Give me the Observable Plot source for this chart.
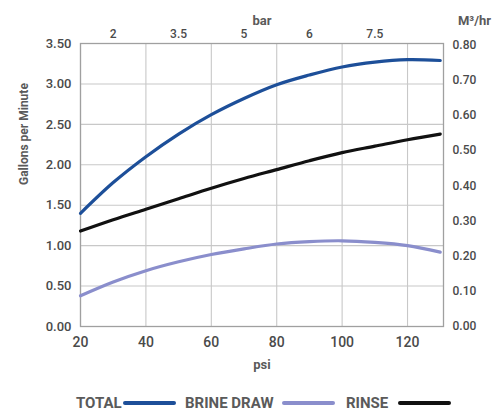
<!DOCTYPE html>
<html>
<head>
<meta charset="utf-8">
<script src="https://cdn.jsdelivr.net/npm/d3@7"></script>
<script src="https://cdn.jsdelivr.net/npm/@observablehq/plot@0.6"></script>
<style>
  html, body { margin: 0; padding: 0; background: #fff; }
  #chart { width: 499px; }
  .legend { position: relative; height: 24px; font-family: Roboto, "DejaVu Sans", sans-serif; font-weight: 700; font-size: 15px; color: #5a5a5a; margin-top: 8px; }
  .legend span { position: absolute; top: 0; line-height: 22px; white-space: nowrap; }
  .legend .sw { height: 4px; border-radius: 2px; top: 9px; }
</style>
</head>
<body>
<div id="chart"></div>
<script>
// Data
const psi   = [20, 30, 40, 50, 60, 70, 80, 90, 100, 110, 120, 130];
const total = [1.40, 1.78, 2.10, 2.38, 2.62, 2.82, 2.99, 3.11, 3.21, 3.27, 3.30, 3.29];
const brine = [0.38, 0.55, 0.69, 0.80, 0.89, 0.96, 1.02, 1.05, 1.06, 1.04, 1.00, 0.92];
const rinse = [1.18, 1.32, 1.45, 1.58, 1.71, 1.83, 1.94, 2.05, 2.15, 2.23, 2.31, 2.38];

const gpmTicks = [0, 0.5, 1, 1.5, 2, 2.5, 3, 3.5];
const psiTicks = [20, 40, 60, 80, 100, 120];
const barTickPsi = [30, 50, 70, 90, 110];
const barLabels = ["2", "3.5", "5", "6", "7.5"];
const m3Ticks = [0, 0.1, 0.2, 0.3, 0.4, 0.5, 0.6, 0.7, 0.8];
const gpmPerM3 = 4.35;

const seriesNames = ["TOTAL", "BRINE DRAW", "RINSE"];
const seriesColors = ["#1d4f99", "#8a8ecc", "#111111"];
const seriesValues = [total, brine, rinse];

const rows = [];
seriesNames.forEach((s, k) => psi.forEach((p, i) => rows.push({series: s, psi: p, gpm: seriesValues[k][i]})));

const font = "Roboto, 'DejaVu Sans', sans-serif";
const tickColor = "#4a4a4a";

const chart = Plot.plot({
  width: 499,
  height: 384,
  marginLeft: 80,
  marginRight: 56,
  marginTop: 43,
  marginBottom: 58,
  style: {fontFamily: font, fontSize: "13px", color: tickColor, background: "#fff"},
  x: {domain: [20, 131]},
  y: {domain: [0, 3.5]},
  color: {domain: seriesNames, range: seriesColors},
  marks: [
    Plot.gridY(gpmTicks, {stroke: "#c8c8c8", strokeOpacity: 1, strokeWidth: 1.1}),
    Plot.gridX(psiTicks, {stroke: "#c8c8c8", strokeOpacity: 1, strokeWidth: 1.1}),
    Plot.frame({stroke: "#a0a0a0", strokeWidth: 1.3}),
    Plot.axisY(gpmTicks, {anchor: "left", tickSize: 0, tickPadding: 9, tickFormat: d => d.toFixed(2), label: null, fontWeight: 500, fill: tickColor, fontSize: 13}),
    Plot.axisY(m3Ticks.map(v => v * gpmPerM3), {anchor: "right", tickSize: 0, tickPadding: 9, tickFormat: d => (d / gpmPerM3).toFixed(2), label: null, fontWeight: 500, fill: tickColor, fontSize: 12}),
    Plot.axisX(psiTicks, {anchor: "bottom", tickSize: 0, tickPadding: 11, label: null, fontWeight: 500, fill: tickColor, fontSize: 14}),
    Plot.axisX(barTickPsi, {anchor: "top", tickSize: 0, tickPadding: 6, tickFormat: d => barLabels[barTickPsi.indexOf(d)], label: null, fontWeight: 500, fill: tickColor, fontSize: 12}),
    Plot.line(rows, {x: "psi", y: "gpm", z: "series", stroke: "series", strokeWidth: 3.2, curve: "catmull-rom"}),
    Plot.text(["bar"], {frameAnchor: "top", dy: -28, fontWeight: 700, fontSize: 13, fill: "#5a5a5a"}),
    Plot.text(["M³/hr"], {frameAnchor: "top-right", textAnchor: "middle", dx: 31, dy: -28, fontWeight: 700, fontSize: 13, fill: "#5a5a5a"}),
    Plot.text(["psi"], {frameAnchor: "bottom", dy: 42, fontWeight: 700, fontSize: 13, fill: "#5a5a5a"}),
    Plot.text(["Gallons per Minute"], {frameAnchor: "left", dx: -56, rotate: -90, fontWeight: 700, fontSize: 12, fill: "#5a5a5a"})
  ]
});
document.getElementById("chart").appendChild(chart);

// Legend (text followed by its line swatch), laid out in the reference's order
const legendTextX = [76, 185, 346];
const legendSwatchX = [123, 282, 398];
const legend = document.createElement("div");
legend.className = "legend";
seriesNames.forEach((s, k) => {
  const t = document.createElement("span");
  t.textContent = s;
  t.style.left = legendTextX[k] + "px";
  const sw = document.createElement("span");
  sw.className = "sw";
  sw.style.background = seriesColors[k];
  sw.style.left = legendSwatchX[k] + "px";
  sw.style.width = "53px";
  legend.appendChild(t);
  legend.appendChild(sw);
});
document.getElementById("chart").appendChild(legend);
</script>
</body>
</html>
